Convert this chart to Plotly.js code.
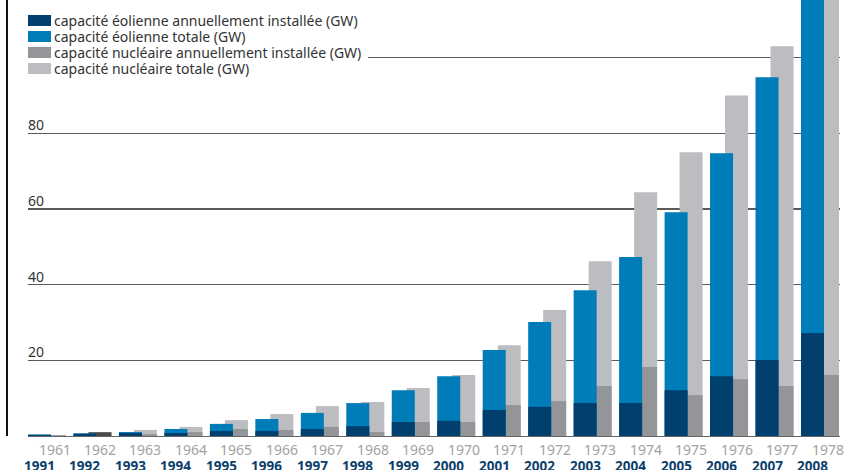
<!DOCTYPE html>
<html>
<head>
<meta charset="utf-8">
<script src="https://cdn.plot.ly/plotly-3.0.1.min.js"></script>
<style>html,body{margin:0;padding:0;background:#fff}#chart{width:844px;height:470px}</style>
</head>
<body>
<div id="chart"></div>
<script>
// ---- data ----
const windYears = [1991,1992,1993,1994,1995,1996,1997,1998,1999,2000,2001,2002,2003,2004,2005,2006,2007,2008];
const nuclearYears = [1961,1962,1963,1964,1965,1966,1967,1968,1969,1970,1971,1972,1973,1974,1975,1976,1977,1978];
const windAnnual = [0.3,0.6,0.8,0.8,1.3,1.3,1.85,2.6,3.7,4.0,6.9,7.7,8.7,8.7,12.1,15.8,20.1,27.2];
const windTotal  = [0.4,0.7,1.05,1.85,3.2,4.5,6.1,8.7,12.1,15.8,22.7,30.1,38.5,47.3,59.1,74.7,94.8,121];
const nuclearAnnual = [0.2,1.0,0.5,1.05,1.85,1.6,2.4,1.05,3.7,3.7,8.2,9.2,13.2,18.2,10.8,15.0,13.2,16.1];
const nuclearTotal  = [0.2,1.0,1.6,2.4,4.2,5.8,7.9,9.0,12.7,16.1,24.0,33.3,46.2,64.4,75.0,90.0,103.0,118];
const yTicks = [20,40,60,80];
const legendLabels = [
  'capacité éolienne annuellement installée (GW)',
  'capacité éolienne totale (GW)',
  'capacité nucléaire annuellement installée (GW)',
  'capacité nucléaire totale (GW)'
];

// ---- styling ----
const C_WIND_ANN = '#003f6e', C_WIND_TOT = '#007db8', C_NUC_ANN = '#939598', C_NUC_TOT = '#bcbdc0';
const FONT = 'Noto Sans, Open Sans, sans-serif';
const W = 844, H = 470, ML = 28, MR = 4, MT = 0, MB = 34;
const PW = W - ML - MR, PH = H - MT - MB;
const px = x => (x - ML) / PW;
const py = y => (H - MB - y) / PH;

const idx = windYears.map((_, i) => i);
const OFF = 0.33, BW = 0.506;
const nucX = idx.map(i => i + OFF);
const nucAnnColors = nuclearYears.map(y => y === 1962 ? '#4d4946' : C_NUC_ANN);

const traces = [
  {type:'bar', x:nucX, y:nuclearTotal, width:BW, marker:{color:C_NUC_TOT}, hoverinfo:'skip', name:legendLabels[3]},
  {type:'bar', x:nucX, y:nuclearAnnual, width:BW, marker:{color:nucAnnColors}, hoverinfo:'skip', name:legendLabels[2]},
  {type:'bar', x:idx, y:windTotal, width:BW, marker:{color:C_WIND_TOT}, hoverinfo:'skip', name:legendLabels[1]},
  {type:'bar', x:idx, y:windAnnual, width:BW, marker:{color:C_WIND_ANN}, hoverinfo:'skip', name:legendLabels[0]}
];

const shapes = [];
const annotations = [];
// left vertical rule
shapes.push({type:'line', xref:'paper', yref:'paper', x0:px(7), x1:px(7), y0:py(0), y1:py(436), line:{color:'#111', width:2}});
// legend background
shapes.push({type:'rect', xref:'paper', yref:'paper', x0:px(20), x1:px(368), y0:py(8), y1:py(78), fillcolor:'#fff', line:{width:0}, layer:'above'});
const legColors = [C_WIND_ANN, C_WIND_TOT, C_NUC_ANN, C_NUC_TOT];
legendLabels.forEach((t, k) => {
  const top = 15 + 16 * k;
  shapes.push({type:'rect', xref:'paper', yref:'paper', x0:px(28), x1:px(51), y0:py(top), y1:py(top + 11), fillcolor:legColors[k], line:{width:0}, layer:'above'});
  annotations.push({xref:'paper', yref:'paper', x:px(53), y:py(top + 5.5), xanchor:'left', yanchor:'middle', text:t, showarrow:false, font:{family:FONT, size:14, color:'#333'}, borderpad:0});
});
// y tick labels
yTicks.forEach(v => {
  annotations.push({xref:'paper', yref:'y', x:0, y:v, xanchor:'left', yanchor:'bottom', text:String(v), showarrow:false, font:{family:FONT, size:14, color:'#333'}, xshift:-2, yshift:-3});
});
// year labels
idx.forEach(i => {
  annotations.push({xref:'x', yref:'paper', x:nucX[i], y:py(450), xanchor:'center', yanchor:'middle', text:String(nuclearYears[i]), showarrow:false, font:{family:FONT, size:14, color:'#a2a2a2'}});
  annotations.push({xref:'x', yref:'paper', x:i, y:py(466), xanchor:'center', yanchor:'middle', text:'<b>' + windYears[i] + '</b>', showarrow:false, font:{family:FONT, size:13.5, color:'#0d3f6c'}});
});

const layout = {
  width:W, height:H,
  margin:{l:ML, r:MR, t:MT, b:MB, pad:0},
  paper_bgcolor:'#fff', plot_bgcolor:'#fff',
  barmode:'overlay', showlegend:false,
  xaxis:{range:[-0.253, 17.605], showgrid:false, zeroline:false, showticklabels:false, ticks:'', showline:true, linecolor:'#666', linewidth:1, fixedrange:true},
  yaxis:{range:[0, 115.2], tickvals:[20,40,60,80,100], showticklabels:false, ticks:'', showgrid:true, gridcolor:'#5a5a5a', gridwidth:1.3, zeroline:false, showline:false, fixedrange:true},
  shapes, annotations,
  font:{family:FONT}
};

Plotly.newPlot('chart', traces, layout, {displayModeBar:false, staticPlot:true});
</script>
</body>
</html>
